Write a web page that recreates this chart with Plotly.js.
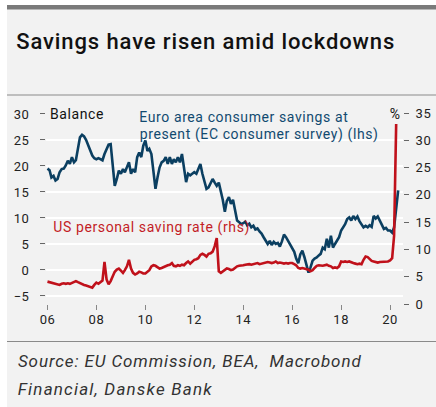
<!DOCTYPE html>
<html>
<head>
<meta charset="utf-8">
<script src="https://cdn.plot.ly/plotly-3.0.1.min.js"></script>
<style>
html,body{margin:0;padding:0;background:#ffffff;}
#chart{width:436px;height:407px;}
g.annotation[data-index="0"] text{letter-spacing:0.9px;}
g.annotation[data-index="1"] text,
g.annotation[data-index="2"] text,
g.annotation[data-index="3"] text,
g.annotation[data-index="4"] text,
g.annotation[data-index="5"] text{letter-spacing:0.6px;}
g.annotation[data-index="6"] text{letter-spacing:0.9px;}
g.annotation[data-index="7"] text{letter-spacing:1.2px;}
g.xtick text, g.ytick text, g.y2tick text{letter-spacing:0.5px;}
</style>
</head>
<body>
<div id="chart"></div>
<script>
// ---- Data (monthly) ----
const euroStart = '2006-01';
// Euro area consumer savings at present, EC consumer survey (balance, lhs)
const euroSavings = [
  19.5,19.2,17.8,18.1,17.2,17.5,18.8,19.4,19.5,20.1,21.0,20.4, // 2006
  21.7,20.7,21.1,23.6,25.5,26.0,25.7,25.0,24.0,23.0,22.0,21.5, // 2007
  21.3,21.5,21.3,21.1,22.3,23.2,24.1,24.2,19.7,16.2,17.5,19.1, // 2008
  18.5,19.4,18.8,19.7,20.7,18.5,19.4,18.8,21.7,22.6,21.7,23.9, // 2009
  24.9,22.9,23.3,22.3,19.1,15.6,17.8,19.7,20.7,21.0,21.7,20.4, // 2010
  21.7,20.4,21.3,20.7,21.7,20.7,22.3,19.1,16.9,18.5,18.2,18.5, // 2011
  18.8,18.5,19.4,20.4,18.5,16.9,15.6,15.9,16.9,17.5,16.8,16.2, // 2012
  16.8,15.3,13.5,11.2,13.3,14.0,12.7,13.5,11.4,9.5,9.2,8.8,    // 2013
  9.0,9.3,8.6,8.9,8.2,8.5,7.8,8.0,7.4,7.0,6.3,5.5,             // 2014
  5.0,5.6,4.8,5.4,5.0,5.2,4.5,5.5,6.8,6.3,5.6,5.0,             // 2015
  4.2,3.5,2.2,1.3,3.0,3.7,2.5,1.0,-0.5,0.5,1.8,2.2,            // 2016
  2.4,2.8,3.1,4.3,4.0,6.0,4.3,6.6,4.3,5.0,5.6,6.3,             // 2017
  7.6,8.2,8.8,9.8,10.1,9.5,10.4,9.8,10.3,9.4,8.8,8.2,          // 2018
  8.5,8.2,8.6,8.3,10.4,9.9,10.3,9.5,8.6,7.9,8.1,7.6,           // 2019
  7.6,7.2,8.2,11.4,15.3                                        // 2020
];
const usStart = '2006-01';
// US personal saving rate, % (rhs)
const usSavingRate = [
  4.1,4.0,3.9,3.7,3.6,3.5,3.5,3.7,3.8,3.7,3.8,3.7, // 2006
  3.9,4.1,4.2,4.0,3.8,3.6,3.5,3.4,3.3,3.2,3.0,3.5, // 2007
  3.9,3.7,4.0,4.3,7.7,4.5,3.6,4.2,5.1,5.9,6.3,6.5, // 2008
  6.1,5.7,6.2,6.9,8.1,6.5,5.7,5.4,5.6,5.9,5.8,5.6, // 2009
  5.6,6.0,6.2,6.9,7.1,7.0,6.8,6.5,6.6,6.8,6.9,7.1, // 2010
  7.2,7.5,7.0,6.9,7.1,7.0,7.2,7.1,7.5,7.8,7.4,7.8, // 2011
  8.1,8.2,8.4,9.0,9.2,9.0,8.7,9.2,9.3,9.6,10.6,12.1, // 2012
  6.0,5.7,6.0,6.2,6.5,6.4,6.2,6.3,6.6,6.9,7.0,7.0, // 2013
  7.1,7.2,7.3,7.3,7.2,7.3,7.4,7.5,7.3,7.4,7.5,7.6, // 2014
  7.7,7.6,7.5,7.6,7.8,7.5,7.6,7.5,7.4,7.5,7.4,7.5, // 2015
  7.5,7.3,7.1,6.6,6.5,6.6,6.5,6.4,6.3,6.0,6.2,6.6, // 2016
  7.0,7.1,7.0,7.0,7.1,7.2,7.0,6.9,6.6,6.7,6.6,6.9, // 2017
  7.8,7.7,7.8,7.7,7.8,7.6,7.5,7.4,7.3,7.4,7.3,8.1, // 2018
  8.7,8.6,8.2,7.9,7.8,7.7,7.6,7.7,7.7,7.8,7.8,7.8, // 2019
  8.0,8.4,12.5,33.0                                // 2020
];
const xTickVals = ['2006-01-01','2008-01-01','2010-01-01','2012-01-01','2014-01-01','2016-01-01','2018-01-01','2020-01-01'];
const xTickText = ['06','08','10','12','14','16','18','20'];
const leftTicks = [-5,0,5,10,15,20,25,30];
const rightTicks = [0,5,10,15,20,25,30,35];

const titleText = 'Savings have risen amid lockdowns';
const euroLabel1 = 'Euro area consumer savings at';
const euroLabel2 = 'present (EC consumer survey) (lhs)';
const usLabel = 'US personal saving rate (rhs)';
const sourceLine1 = 'Source: EU Commission, BEA,\u00a0 Macrobond';
const sourceLine2 = 'Financial, Danske Bank';

function monthDates(start, n){
  const [y0,m0] = start.split('-').map(Number);
  const out = [];
  for(let i=0;i<n;i++){
    const t = (m0-1)+i;
    const y = y0 + Math.floor(t/12);
    const m = t%12 + 1;
    out.push(y + '-' + (m<10?'0':'') + m + '-01');
  }
  return out;
}

// ---- Layout geometry (pixels) ----
const W = 436, H = 407;
const M = {l:46, r:33, t:113, b:103};
const PW = W - M.l - M.r, PH = H - M.t - M.b;
const px = x => (x - M.l)/PW;
const py = y => (H - M.b - y)/PH;

const FONT = 'Roboto, "Liberation Sans", sans-serif';
const BLUE = '#0b3f61', RED = '#c0111b';

const traces = [
  {x: monthDates(euroStart, euroSavings.length), y: euroSavings, type:'scatter', mode:'lines',
   line:{color:BLUE, width:2.6}, yaxis:'y', hoverinfo:'skip'},
  {x: monthDates(usStart, usSavingRate.length), y: usSavingRate, type:'scatter', mode:'lines',
   line:{color:RED, width:2.6}, yaxis:'y2', hoverinfo:'skip'}
];

// left-anchored text; spacing = CSS letter-spacing, shift compensates centred growth
function ann(text, x, y, spacing, opts){
  const shift = (text.length - 1) * spacing / 2;
  return Object.assign({text:text, xref:'paper', yref:'paper', x:px(x + shift), y:py(y),
    xanchor:'left', yanchor:'middle', showarrow:false,
    font:{family:FONT, size:14, color:'#222'}}, opts||{});
}

const layout = {
  width:W, height:H,
  margin:M,
  paper_bgcolor:'#f2f2f2', plot_bgcolor:'#f2f2f2',
  showlegend:false,
  font:{family:FONT, size:13, color:'#222'},
  xaxis:{type:'date', range:['2005-12-10','2020-07-12'], tickvals:xTickVals, ticktext:xTickText,
    showgrid:false, zeroline:false, showline:false, ticks:'outside', ticklen:5, tickcolor:'#888', tickwidth:1,
    ticklabelstandoff:-2, tickfont:{family:FONT, size:13, color:'#222'}},
  yaxis:{range:[-6.54,30.19], tickvals:leftTicks, showgrid:true, gridcolor:'#ffffff', gridwidth:1.6,
    zeroline:false, showline:false, ticks:'outside', ticklen:5, tickcolor:'#666', tickwidth:1,
    ticklabelstandoff:8, tickfont:{family:FONT, size:13, color:'#222'}},
  yaxis2:{range:[0,35], tickvals:rightTicks, overlaying:'y', side:'right', showgrid:false,
    zeroline:false, showline:false, ticks:'outside', ticklen:5, tickcolor:'#666', tickwidth:1,
    ticklabelstandoff:4, tickfont:{family:FONT, size:13, color:'#222'}},
  shapes:[
    {type:'rect', xref:'paper', yref:'paper', x0:px(0), x1:px(7), y0:py(0), y1:py(H), fillcolor:'#ffffff', line:{width:0}, layer:'below'},
    {type:'rect', xref:'paper', yref:'paper', x0:px(0), x1:px(W), y0:py(0), y1:py(5), fillcolor:'#ffffff', line:{width:0}, layer:'below'},
    {type:'rect', xref:'paper', yref:'paper', x0:px(7), x1:px(W), y0:py(5), y1:py(9.5), fillcolor:'#7a7a7a', line:{width:0}, layer:'below'},
    {type:'line', xref:'paper', yref:'paper', x0:px(7), x1:px(W), y0:py(95), y1:py(95), line:{color:'#8a8a8a', width:1}},
    {type:'line', xref:'paper', yref:'paper', x0:px(7), x1:px(W), y0:py(341.5), y1:py(341.5), line:{color:'#8a8a8a', width:1}}
  ],
  annotations:[
    ann(titleText, 15, 41, 0.9, {font:{family:FONT, size:22, color:'#111', weight:500}}),
    ann('Balance', 48, 114, 0.6, {font:{family:FONT, size:14, color:'#111'}}),
    ann('%', 388, 114, 0.6, {font:{family:FONT, size:14, color:'#111'}}),
    ann(euroLabel1, 138, 117, 0.6, {font:{family:FONT, size:14, color:'#114a70'}}),
    ann(euroLabel2, 138, 134, 0.6, {font:{family:FONT, size:14, color:'#114a70'}}),
    ann(usLabel, 52, 227, 0.6, {font:{family:FONT, size:14, color:'#c31d26'}}),
    ann(sourceLine1, 16, 361, 0.9, {font:{family:FONT, size:17, color:'#333', style:'italic'}}),
    ann(sourceLine2, 16, 389, 1.2, {font:{family:FONT, size:17, color:'#333', style:'italic'}})
  ]
};

Plotly.newPlot('chart', traces, layout, {staticPlot:true, displayModeBar:false});
</script>
</body>
</html>
